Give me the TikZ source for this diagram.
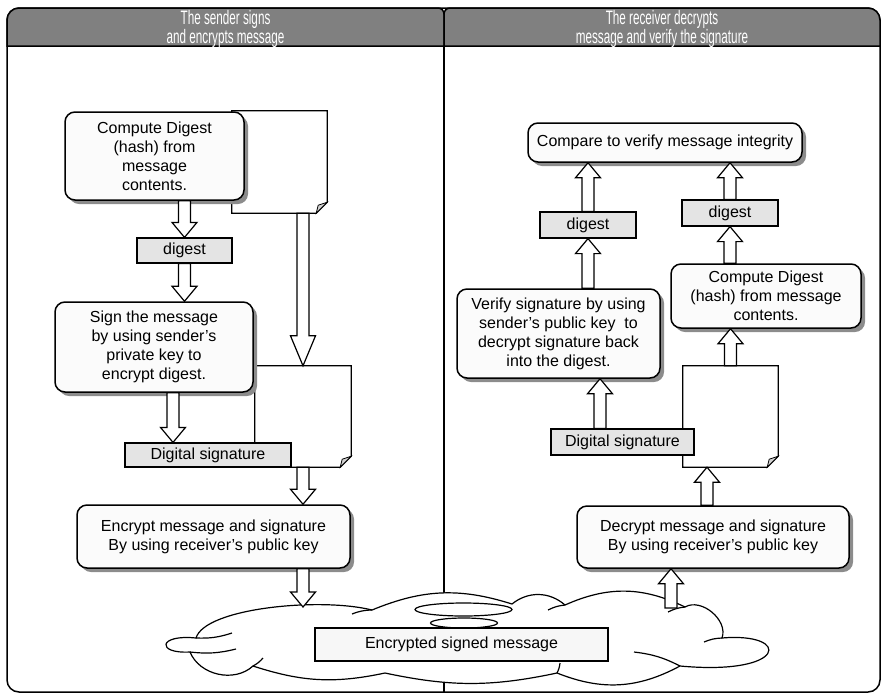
\documentclass[tikz,border=0pt]{standalone}
\usepackage{fontspec}
\setmainfont{Liberation Sans}
\newfontfamily\headfont[FakeStretch=0.6]{Liberation Sans}
\usepackage{xcolor}
\usepackage{tikz}
\usetikzlibrary{positioning,calc,shadows}

\definecolor{headgray}{HTML}{808080}
\definecolor{tagfill}{HTML}{E4E4E4}

% sheet of paper with a dog-eared corner, drawn round a named node
\newcommand{\pageoutline}[1]{%
    \draw [line width=1.2pt, fill=white] (#1.north west) -- (#1.north east) -- ([yshift=11pt]#1.south east)
        -- ([xshift=-11pt]#1.south east) -- (#1.south west) -- cycle;
    \draw [line width=0.8pt, fill=gray!35] ([yshift=11pt]#1.south east) -- ([xshift=-9pt,yshift=8pt]#1.south east)
        -- ([xshift=-11pt]#1.south east) -- cycle;}

\begin{document}
\begin{tikzpicture}[x=1pt, y=-1pt,
    procbox/.style={draw, line width=1.5pt, fill=gray!3, rounded corners=10pt, align=center, inner sep=0pt,
        font=\fontsize{16}{19}\selectfont,
        drop shadow={shadow xshift=4pt, shadow yshift=-4pt, fill=gray!90, opacity=1}},
    tagbox/.style={draw, line width=1.2pt, fill=tagfill, inner sep=0pt, font=\fontsize{16}{19}\selectfont},
    pagesheet/.style={inner sep=0pt},
    headtext/.style={text=white, align=center, font=\headfont\fontsize{19.5}{18}\selectfont},
    fatarrow/.style={draw, fill=white, line width=1.2pt, line join=miter, to path={
        coordinate (fa s) at (\tikztostart) coordinate (fa t) at (\tikztotarget)
        coordinate (fa h) at ($(fa t)!#1!(fa s)$)
        ($(fa s)!6pt!90:(fa t)$) -- ($(fa h)!6pt!-90:(fa s)$) -- ($(fa h)!12.5pt!-90:(fa s)$) -- (fa t)
        -- ($(fa h)!12.5pt!90:(fa s)$) -- ($(fa h)!6pt!90:(fa s)$) -- ($(fa s)!6pt!-90:(fa t)$) -- cycle}},
    fatarrow/.default=15pt]

    \useasboundingbox (0,0) rectangle (883,694);

    % frame and the two column headings
    \draw [line width=1.5pt, rounded corners=12pt] (7,8) rectangle (880,692);
    \draw [line width=1.5pt, fill=headgray] (7,46) [rounded corners=12pt] -- (7,8) [rounded corners=6pt] -- (444,8)
        [sharp corners] -- (444,46) -- cycle;
    \draw [line width=1.5pt, fill=headgray] (444,46) [rounded corners=6pt] -- (444,8) [rounded corners=12pt] -- (880,8)
        [sharp corners] -- (880,46) -- cycle;
    \node [headtext] (sendhead) at (225.5,29) {The sender signs\\and encrypts message};
    \node [headtext] (recvhead) at (662,29) {The receiver decrypts\\message and verify the signature};
    \draw [line width=1.2pt] (444,46) -- (444,692);

    % sender side
    \node [pagesheet, minimum width=95pt, minimum height=102pt] (doc1) at (279.5,162) {};
    \node [pagesheet, minimum width=96pt, minimum height=101pt] (doc2) at (303,416.5) {};
    \pageoutline{doc1}
    \pageoutline{doc2}

    \node [procbox, minimum width=179pt, minimum height=88pt] (cd) at (154.5,156)
        {Compute Digest\\(hash) from\\message\\contents.};
    \node [tagbox, minimum width=95pt, minimum height=25pt] (dg) at (184.5,250.5) {digest};
    \node [procbox, minimum width=198pt, minimum height=90pt] (sg) at (154,347)
        {Sign the message\\by using sender’s\\private key to\\encrypt digest.};
    \node [tagbox, minimum width=166pt, minimum height=24pt] (ds) at (208,455) {Digital signature};
    \node [procbox, minimum width=273pt, minimum height=63pt] (enc) at (213.5,536.5)
        {Encrypt message and signature\\By using receiver’s public key};

    % receiver side
    \node [pagesheet, minimum width=95pt, minimum height=101pt] (rdoc) at (730.5,416.5) {};
    \pageoutline{rdoc}

    \node [procbox, minimum width=274pt, minimum height=39pt] (cmp) at (665,142.5)
        {Compare to verify message integrity};
    \node [tagbox, minimum width=96pt, minimum height=26pt] (ldg) at (588,225) {digest};
    \node [tagbox, minimum width=96pt, minimum height=26pt] (rdg) at (730,213) {digest};
    \node [procbox, minimum width=190pt, minimum height=64pt] (rcd) at (766,296)
        {Compute Digest\\(hash) from message\\contents.};
    \node [procbox, minimum width=203pt, minimum height=89pt] (vf) at (558.5,333.5)
        {Verify signature by using\\sender’s public key\ \ to\\decrypt signature back\\into the digest.};
    \node [tagbox, minimum width=143pt, minimum height=26pt] (rds) at (622.5,442) {Digital signature};
    \node [procbox, minimum width=272pt, minimum height=62pt] (dec) at (713,537)
        {Decrypt message and signature\\By using receiver’s public key};

    % the message in transit: a cloud made of lobes
    \draw [line width=1.2pt, fill=white] (196,638) .. controls (205,608) and (320,597) .. (372,610)
        to[bend left=20] (512,604) to[bend left=40] (565,605) to[bend left=25] (685,607)
        to[bend left=70] (722,638) .. controls (792,632) and (788,676) .. (680,666)
        to[bend left=25] (557,673) to[bend left=12] (385,673) to[bend left=15] (253,666)
        to[bend left=55] (190,652) .. controls (156,654) and (158,634) .. (196,638) -- cycle;
    % curled ends of the lobes
    \foreach \a/\b in {{196,638}/{232,633}, {190,652}/{236,649}, {372,610}/{352,614}, {565,605}/{548,610},
                       {685,607}/{668,612}, {722,638}/{704,642}, {680,666}/{634,652}, {557,673}/{560,663},
                       {253,666}/{263,658}}
        \draw [line width=1.2pt] (\a) to[bend right=10] (\b);
    \draw [line width=1.2pt, fill=white] (463.5,609.5) ellipse [x radius=48.5pt, y radius=6.5pt];
    \draw [line width=1.2pt, fill=white] (464,623) ellipse [x radius=33.5pt, y radius=5pt];
    \node [tagbox, fill=gray!6, minimum width=293pt, minimum height=33pt] (esm) at (461.5,644.5)
        {Encrypted signed message};
    \coordinate (drop) at (303,607);
    \coordinate (lift) at (671,608);

    % sender flow
    \draw [fatarrow] (cd.south -| dg.north) to (dg.north);
    \draw [fatarrow] (dg.south) to (sg.north -| dg.south);
    \draw [fatarrow=30pt] (doc2.north |- doc1.south) to (doc2.north);
    \draw [fatarrow] ([xshift=19pt]sg.south) to ([xshift=19pt]sg.south |- ds.north);
    \draw [fatarrow] (doc2.south) to (enc.north -| doc2.south);
    \draw [fatarrow] (enc.south -| drop) to (drop);

    % receiver flow
    \draw [fatarrow] (lift) to (dec.south -| lift);
    \draw [fatarrow] ([xshift=-6pt]dec.north) to ([xshift=-6pt]dec.north |- rdoc.south);
    \draw [fatarrow] (rdoc.north) to (rcd.south -| rdoc.north);
    \draw [fatarrow] ([xshift=-22.5pt]rds.north) to ([xshift=-22.5pt]rds.north |- vf.south);
    \draw [fatarrow] (vf.north -| ldg.south) to (ldg.south);
    \draw [fatarrow] (ldg.north) to (cmp.south -| ldg.north);
    \draw [fatarrow] (rcd.north -| rdg.south) to (rdg.south);
    \draw [fatarrow] (rdg.north) to (cmp.south -| rdg.north);

\end{tikzpicture}
\end{document}
